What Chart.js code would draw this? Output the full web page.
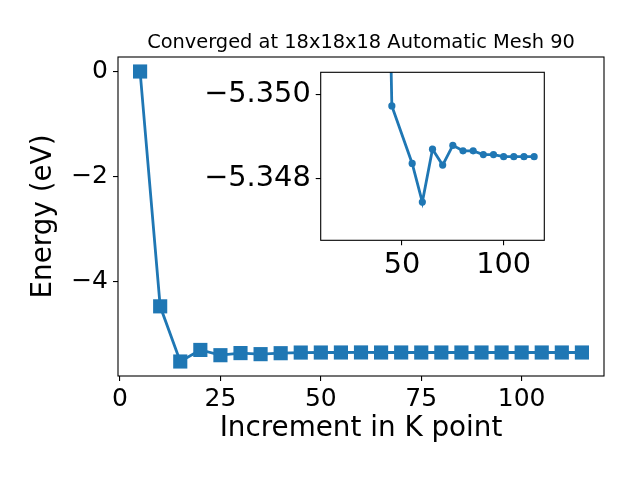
<!DOCTYPE html>
<html>
<head>
<meta charset="utf-8">
<script src="https://cdn.jsdelivr.net/npm/chart.js@4.4.0/dist/chart.umd.min.js"></script>
<style>
  body { margin: 0; background: #ffffff; }
  #wrap { position: relative; width: 640px; height: 480px; }
  #mainChart { position: absolute; left: 0; top: 0; }
  #insetChart { position: absolute; left: 180px; top: 60px; }
</style>
</head>
<body>
<div id="wrap">
  <canvas id="mainChart" width="640" height="480"></canvas>
  <canvas id="insetChart" width="380" height="230"></canvas>
</div>
<script>
// Main curve: energy against k point increment
var kPoints = [5, 10, 15, 20, 25, 30, 35, 40, 45, 50, 55, 60, 65, 70, 75, 80, 85, 90, 95, 100, 105, 110, 115];
var energy = [0, -4.47, -5.52, -5.30, -5.40, -5.36, -5.38, -5.362, -5.3497, -5.349, -5.3484, -5.3475, -5.3487,
              -5.3483, -5.3488, -5.3487, -5.3487, -5.3486, -5.3486, -5.3485, -5.3485, -5.3485, -5.3485];
var xTicks = [0, 25, 50, 75, 100];
var yTicks = [0, -2, -4];
var chartTitle = 'Converged at 18x18x18 Automatic Mesh 90';

// Inset (zoomed) curve
var insetK = [40, 45, 55, 60, 65, 70, 75, 80, 85, 90, 95, 100, 105, 110, 115];
var insetEnergy = [-5.362, -5.34974, -5.34837, -5.34745, -5.34871, -5.34833, -5.34880, -5.34867,
                   -5.34867, -5.34858, -5.34858, -5.34853, -5.34853, -5.34853, -5.34853];
var insetXTicks = [50, 100];
var insetYTicks = [-5.350, -5.348];

var blue = '#1f77b4';
var fontFamily = '"DejaVu Sans", sans-serif';

function toPoints(xs, ys) {
  var pts = [];
  for (var i = 0; i < xs.length; i++) {
    pts.push({ x: xs[i], y: ys[i] });
  }
  return pts;
}

function minusSign(text) {
  return String(text).replace('-', '\u2212');
}

// Draws the black frame round the plot area, a white face for the inset,
// and the title centred over the plot area (like matplotlib does)
var framePlugin = {
  id: 'frame',
  beforeDraw: function (chart, args, opts) {
    if (!opts.fill) return;
    var a = chart.chartArea;
    var ctx = chart.ctx;
    ctx.save();
    ctx.fillStyle = '#ffffff';
    ctx.fillRect(a.left, a.top, a.right - a.left, a.bottom - a.top);
    ctx.restore();
  },
  afterDraw: function (chart, args, opts) {
    var a = chart.chartArea;
    var ctx = chart.ctx;
    ctx.save();
    ctx.strokeStyle = '#000000';
    ctx.lineWidth = 1.1;
    ctx.strokeRect(a.left, a.top, a.right - a.left, a.bottom - a.top);
    if (opts.title) {
      ctx.fillStyle = '#000000';
      ctx.font = '19.4px ' + fontFamily;
      ctx.textAlign = 'center';
      ctx.textBaseline = 'alphabetic';
      ctx.fillText(opts.title, (a.left + a.right) / 2, 48.3);
    }
    ctx.restore();
  }
};

function tickSetter(list) {
  return function (scale) {
    scale.ticks = list.map(function (v) { return { value: v }; });
  };
}

function fitter(size) {
  return function (scale) {
    if (scale.isHorizontal()) {
      scale.height = size;
    } else {
      scale.width = size;
    }
    scale.paddingTop = 0;
    scale.paddingBottom = 0;
    scale.paddingLeft = 0;
    scale.paddingRight = 0;
  };
}

var axisGrid = {
  drawOnChartArea: false,
  drawTicks: true,
  tickLength: 5,
  color: '#000000',
  lineWidth: 1.1
};

// Main chart
var mainCtx = document.getElementById('mainChart').getContext('2d');
var mainChart = new Chart(mainCtx, {
  type: 'line',
  data: {
    datasets: [{
      data: toPoints(kPoints, energy),
      borderColor: blue,
      backgroundColor: blue,
      borderWidth: 2.8,
      pointStyle: 'rect',
      pointRadius: 10,
      pointHoverRadius: 10,
      pointBorderWidth: 0,
      tension: 0
    }]
  },
  options: {
    responsive: false,
    animation: false,
    events: [],
    layout: { padding: { top: 57, right: 36, left: 0, bottom: 0 } },
    plugins: {
      legend: { display: false },
      tooltip: { enabled: false },
      title: { display: false },
      frame: { fill: false, title: chartTitle }
    },
    scales: {
      x: {
        type: 'linear',
        min: -0.5,
        max: 120.5,
        grid: axisGrid,
        border: { display: false },
        afterBuildTicks: tickSetter(xTicks),
        afterFit: fitter(104),
        ticks: {
          color: '#000000',
          padding: 3,
          maxRotation: 0,
          font: { family: fontFamily, size: 25 }
        },
        title: {
          display: true,
          text: 'Increment in K point',
          color: '#000000',
          font: { family: fontFamily, size: 27.8 },
          padding: { top: 0, bottom: 34.6 }
        }
      },
      y: {
        type: 'linear',
        min: -5.796,
        max: 0.276,
        grid: axisGrid,
        border: { display: false },
        afterBuildTicks: tickSetter(yTicks),
        afterFit: fitter(118),
        ticks: {
          color: '#000000',
          padding: 5,
          font: { family: fontFamily, size: 25 },
          callback: function (value) { return minusSign(value); }
        },
        title: {
          display: true,
          text: 'Energy (eV)',
          color: '#000000',
          font: { family: fontFamily, size: 27.8 },
          padding: { top: 27.5, bottom: 0 }
        }
      }
    }
  },
  plugins: [framePlugin]
});

// Inset chart, drawn on its own canvas above the main one
var insetCtx = document.getElementById('insetChart').getContext('2d');
var insetChart = new Chart(insetCtx, {
  type: 'line',
  data: {
    datasets: [{
      data: toPoints(insetK, insetEnergy),
      borderColor: blue,
      backgroundColor: blue,
      borderWidth: 2.8,
      pointStyle: 'circle',
      pointRadius: 3.6,
      pointHoverRadius: 3.6,
      pointBorderWidth: 0,
      tension: 0
    }]
  },
  options: {
    responsive: false,
    animation: false,
    events: [],
    layout: { padding: { top: 12.3, right: 15.7, left: 0, bottom: 0 } },
    plugins: {
      legend: { display: false },
      tooltip: { enabled: false },
      title: { display: false },
      frame: { fill: true }
    },
    scales: {
      x: {
        type: 'linear',
        min: 10,
        max: 120,
        grid: axisGrid,
        border: { display: false },
        afterBuildTicks: tickSetter(insetXTicks),
        afterFit: fitter(49.7),
        ticks: {
          color: '#000000',
          padding: 3,
          maxRotation: 0,
          font: { family: fontFamily, size: 28.8 }
        }
      },
      y: {
        type: 'linear',
        reverse: true,
        min: -5.35054,
        max: -5.34654,
        grid: axisGrid,
        border: { display: false },
        afterBuildTicks: tickSetter(insetYTicks),
        afterFit: fitter(140.7),
        ticks: {
          color: '#000000',
          padding: 5,
          font: { family: fontFamily, size: 28.8 },
          callback: function (value) { return minusSign(Number(value).toFixed(3)); }
        }
      }
    }
  },
  plugins: [framePlugin]
});
</script>
</body>
</html>
